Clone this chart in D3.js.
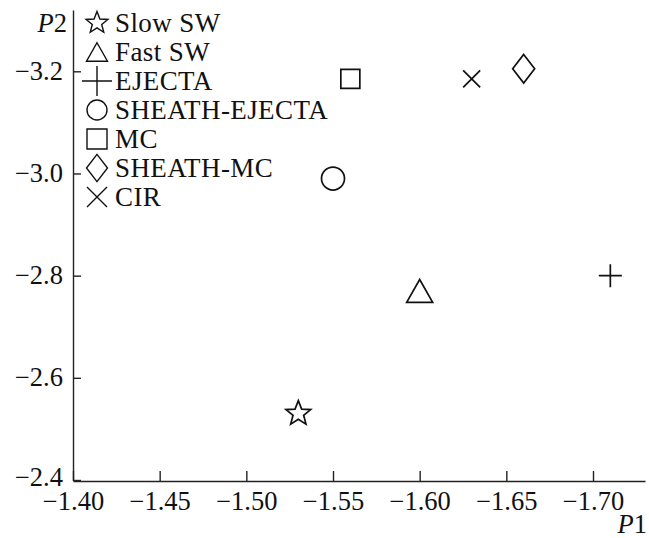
<!DOCTYPE html>
<html>
<head>
<meta charset="utf-8">
<script src="https://cdn.jsdelivr.net/npm/d3@7"></script>
<style>
  html, body { margin: 0; padding: 0; background: #fff; }
  svg text { font-family: 'Liberation Serif', 'Times New Roman', serif; fill: #111; }
</style>
</head>
<body>
<div id="chart"></div>
<script>
/* global d3 */
(function () {
    'use strict';

    // data
    var categories = ['Slow SW', 'Fast SW', 'EJECTA', 'SHEATH-EJECTA', 'MC', 'SHEATH-MC', 'CIR'];
    var p1Values = [-1.53, -1.60, -1.71, -1.55, -1.56, -1.66, -1.63];
    var p2Values = [-2.53, -2.77, -2.80, -2.99, -3.185, -3.205, -3.185];
    var xTicks = [-1.40, -1.45, -1.50, -1.55, -1.60, -1.65, -1.70];
    var yTicks = [-2.4, -2.6, -2.8, -3.0, -3.2];

    var width = 649, height = 538;

    var svg = d3.select('#chart')
        .append('svg')
            .attr('width', width)
            .attr('height', height);

    var x = d3.scaleLinear().domain([-1.40, -1.73]).range([73, 645]);
    var y = d3.scaleLinear().domain([-2.4, -3.32]).range([480, 10]);

    // marker shapes as custom d3 symbol types (size = r * r)
    var symStar = {
        draw: function (ctx, size) {
            var r = Math.sqrt(size), ri = r * 0.43, i, a, rr;
            for (i = 0; i < 10; i++) {
                a = -Math.PI / 2 + i * Math.PI / 5;
                rr = i % 2 ? ri : r;
                if (i === 0) { ctx.moveTo(rr * Math.cos(a), rr * Math.sin(a)); }
                else { ctx.lineTo(rr * Math.cos(a), rr * Math.sin(a)); }
            }
            ctx.closePath();
        }
    };
    var symTriangle = {
        draw: function (ctx, size) {
            var r = Math.sqrt(size);
            ctx.moveTo(0, -r * 0.88);
            ctx.lineTo(r, r * 0.88);
            ctx.lineTo(-r, r * 0.88);
            ctx.closePath();
        }
    };
    var symPlus = {
        draw: function (ctx, size) {
            var r = Math.sqrt(size);
            ctx.moveTo(-r, 0); ctx.lineTo(r, 0);
            ctx.moveTo(0, -r); ctx.lineTo(0, r);
        }
    };
    var symCircle = {
        draw: function (ctx, size) {
            var r = Math.sqrt(size);
            ctx.moveTo(r, 0);
            ctx.arc(0, 0, r, 0, 2 * Math.PI);
        }
    };
    var symSquare = {
        draw: function (ctx, size) {
            var r = Math.sqrt(size);
            ctx.rect(-r, -r, 2 * r, 2 * r);
        }
    };
    var symDiamond = {
        draw: function (ctx, size) {
            var r = Math.sqrt(size);
            ctx.moveTo(0, -r * 1.3);
            ctx.lineTo(r, 0);
            ctx.lineTo(0, r * 1.3);
            ctx.lineTo(-r, 0);
            ctx.closePath();
        }
    };
    var symCross = {
        draw: function (ctx, size) {
            var r = Math.sqrt(size);
            ctx.moveTo(-r, -r); ctx.lineTo(r, r);
            ctx.moveTo(-r, r); ctx.lineTo(r, -r);
        }
    };

    var shapes = [symStar, symTriangle, symPlus, symCircle, symSquare, symDiamond, symCross];
    var plotR = [13, 13, 11.5, 11.5, 9.5, 11, 8.5];
    var legendR = [11.5, 10.5, 15, 10, 10, 10.5, 10];

    var points = categories.map(function (c, i) {
        return { name: c, p1: p1Values[i], p2: p2Values[i], shape: shapes[i], r: plotR[i], lr: legendR[i] };
    });

    // axes
    var xAxis = d3.axisBottom(x)
        .tickValues(xTicks)
        .tickFormat(d3.format('.2f'))
        .tickSizeInner(-10)
        .tickSizeOuter(0)
        .tickPadding(10);

    var yAxis = d3.axisLeft(y)
        .tickValues(yTicks)
        .tickFormat(d3.format('.1f'))
        .tickSizeInner(-8)
        .tickSizeOuter(0)
        .tickPadding(10);

    var gx = svg.append('g')
        .attr('transform', 'translate(0,481)')
        .call(xAxis);

    var gy = svg.append('g')
        .attr('transform', 'translate(73,0)')
        .call(yAxis);

    [gx, gy].forEach(function (g) {
        g.selectAll('path, line').attr('stroke', '#222').attr('stroke-width', 1.4);
        g.selectAll('text')
            .attr('font-size', '26.5px')
            .attr('font-family', "'Liberation Serif', 'Times New Roman', serif")
            .attr('fill', '#111');
    });
    gy.selectAll('text').attr('dy', function (d) {
        // lowest label sits tight against the x labels
        return d === -2.4 ? '0.2em' : '0.3em';
    });

    // axis titles
    var t2 = svg.append('text')
        .attr('x', 67)
        .attr('y', 32)
        .attr('text-anchor', 'end')
        .attr('font-size', '26.5px');
    t2.append('tspan').attr('font-style', 'italic').text('P');
    t2.append('tspan').text('2');

    var t1 = svg.append('text')
        .attr('x', 647)
        .attr('y', 533)
        .attr('text-anchor', 'end')
        .attr('font-size', '26.5px');
    t1.append('tspan').attr('font-style', 'italic').text('P');
    t1.append('tspan').text('1');

    // data markers
    svg.append('g')
        .selectAll('path')
        .data(points)
        .enter()
        .append('path')
            .attr('transform', function (d) {
                return 'translate(' + x(d.p1) + ',' + y(d.p2) + ')';
            })
            .attr('d', function (d) {
                return d3.symbol().type(d.shape).size(d.r * d.r)();
            })
            .attr('fill', 'none')
            .attr('stroke', '#111')
            .attr('stroke-width', 1.7);

    // legend
    var legend = svg.append('g')
        .selectAll('g')
        .data(points)
        .enter()
        .append('g')
            .attr('transform', function (d, i) {
                return 'translate(97,' + (23 + i * 29) + ')';
            });

    legend.append('path')
        .attr('d', function (d) {
            return d3.symbol().type(d.shape).size(d.lr * d.lr)();
        })
        .attr('fill', 'none')
        .attr('stroke', '#111')
        .attr('stroke-width', 1.4);

    legend.append('text')
        .attr('x', 18)
        .attr('y', 9)
        .attr('font-size', '27px')
        .attr('letter-spacing', '0.4px')
        .text(function (d) { return d.name; });
})();
</script>
</body>
</html>
